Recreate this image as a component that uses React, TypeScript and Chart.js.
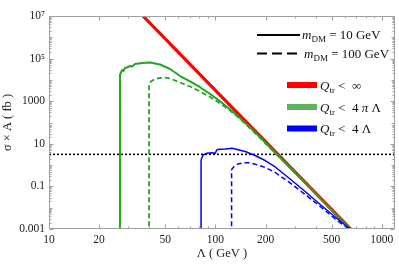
import React, { useEffect, useRef } from 'react';
import { Chart, registerables } from 'chart.js';

Chart.register(...registerables);

// ---- data ----
const xTickValues = [10, 20, 50, 100, 200, 500, 1000];
const xTickLabels = ['10', '20', '50', '100', '200', '500', '1000'];
const yTickValues = [0.001, 0.1, 10, 1000, 1e5, 1e7];
const yTickLabels = ['0.001', '0.1', '10', '1000', '10⁵', '10⁷'];

const redLambda = [33, 36.7, 100, 200, 500, 655];
const redSigma = [2.36e7, 1e7, 3240, 12.5, 0.00805, 0.00093];

const greenSolidLambda = [26.7, 26.7, 27.5, 28.05, 28.6, 29.4, 30.7, 31.6, 32.9, 36.3, 40.5, 46.5, 53.4, 61.3, 70.4, 80.9, 92.9, 106.7, 122.5, 140.8, 161.8, 185.8, 213.3, 281, 427, 525, 655];
const greenSolidSigma = [1e-4, 17000, 29200, 26200, 36200, 38200, 45000, 42600, 55700, 62100, 65600, 52800, 32500, 15200, 8510, 4540, 2180, 1000, 407, 157, 58.2, 20.4, 6.7, 0.78, 0.028, 0.0053, 0.0009];

const greenDashedLambda = [39.9, 39.9, 41.0, 43.4, 46.5, 49.8, 53.4, 61.3, 70.4, 80.9, 92.9, 106.7, 122.5, 140.8, 161.8, 185.8, 213.3, 281, 427, 525, 655];
const greenDashedSigma = [1e-4, 5770, 8410, 11000, 12300, 12700, 11600, 7550, 4900, 2850, 1570, 780, 366, 146, 52.3, 18.7, 6.35, 0.75, 0.027, 0.0051, 0.00088];

const blueSolidLambda = [82.0, 82.0, 84.3, 89.1, 95.5, 99.6, 102.4, 114.4, 126, 131.3, 151, 173.3, 199, 228.6, 281.2, 346, 426.6, 524.8, 586, 650];
const blueSolidSigma = [1e-4, 1.73, 2.98, 3.58, 3.82, 3.58, 5.4, 5.7, 6.15, 5.7, 4.35, 2.82, 1.64, 0.815, 0.222, 0.0577, 0.0141, 0.00366, 0.00181, 0.00095];

const blueDashedLambda = [125.1, 125.1, 129.5, 136.8, 146.8, 159.5, 175.7, 199, 228.6, 281.2, 346, 426.6, 524.8, 586, 650];
const blueDashedSigma = [1e-4, 0.621, 0.859, 1.13, 1.28, 1.28, 1.07, 0.771, 0.45, 0.145, 0.0417, 0.0114, 0.00294, 0.00154, 0.0009];

const limitLambda = [10, 1200];
const limitSigma = [3.2, 3.2];

const massLegend = ['10 GeV', '100 GeV'];
const cutLegend = ['∞', '4 π Λ', '4 Λ'];

const RED = '#ff0000';
const GREEN = '#1fa81f';
const BLUE = '#0000ff';
const SERIF = '"Liberation Serif", "Times New Roman", serif';

const zip = (xs: number[], ys: number[]) => xs.map((x, i) => ({ x, y: ys[i] }));

type Run = { t: string; f: string; dy?: number };
function drawRuns(ctx: CanvasRenderingContext2D, x: number, y: number, runs: Run[]) {
  let cx = x;
  for (const r of runs) {
    ctx.font = r.f;
    ctx.fillText(r.t, cx, y + (r.dy || 0));
    cx += ctx.measureText(r.t).width;
  }
}

const framePlugin = {
  id: 'frameTicks',
  afterDatasetsDraw(chart: any) {
    const { ctx, chartArea } = chart;
    const { left, right, top, bottom } = chartArea;
    const xs = chart.scales.x;
    const ys = chart.scales.y;
    ctx.save();
    ctx.strokeStyle = '#a0a0a0';
    ctx.lineWidth = 1;
    const L = Math.round(left) + 0.5, R = Math.round(right) - 0.5;
    const T = Math.round(top) + 0.5, B = Math.round(bottom) - 0.5;
    ctx.beginPath();
    ctx.rect(L, T, R - L, B - T);
    ctx.stroke();
    ctx.beginPath();
    for (let d = 10; d <= 1000; d *= 10) {
      for (let m = 1; m <= 9; m++) {
        const v = m * d;
        if (v > 1200) break;
        const px = Math.round(xs.getPixelForValue(v)) + 0.5;
        if (px < L || px > R) continue;
        const len = xTickValues.includes(v) ? 4 : 2;
        ctx.moveTo(px, B); ctx.lineTo(px, B - len);
        ctx.moveTo(px, T); ctx.lineTo(px, T + len);
      }
    }
    for (let e = -3; e <= 7; e++) {
      for (let m = 1; m <= 9; m++) {
        const v = m * Math.pow(10, e);
        if (v > 1.0001e7) break;
        const py = Math.round(ys.getPixelForValue(v)) + 0.5;
        const major = m === 1 && (e + 3) % 2 === 0;
        const len = major ? 4 : m === 1 ? 3 : 2;
        ctx.moveTo(L, py); ctx.lineTo(L + len, py);
        ctx.moveTo(R, py); ctx.lineTo(R - len, py);
      }
    }
    ctx.stroke();
    ctx.restore();
  },
  afterDraw(chart: any) {
    const { ctx } = chart;
    ctx.save();
    ctx.fillStyle = '#111';
    ctx.textBaseline = 'alphabetic';
    const big = `13px ${SERIF}`;
    const it = `italic 13px ${SERIF}`;
    const sub = `9px ${SERIF}`;
    // mass legend
    ctx.strokeStyle = '#000';
    ctx.lineWidth = 2;
    ctx.beginPath();
    ctx.moveTo(257, 35); ctx.lineTo(300, 35);
    ctx.stroke();
    ctx.setLineDash([10, 5]);
    ctx.beginPath();
    ctx.moveTo(257, 53.5); ctx.lineTo(297, 53.5);
    ctx.stroke();
    ctx.setLineDash([]);
    const massY = [35, 53.5];
    const massX = [302, 304];
    massLegend.forEach((lab, i) => {
      drawRuns(ctx, massX[i], massY[i] + 4, [
        { t: 'm', f: it },
        { t: 'DM', f: sub, dy: 3 },
        { t: ' = ' + lab, f: big },
      ]);
    });
    // cut legend
    const swCols = [RED, '#5cb35c', BLUE];
    const rowY = [85, 107, 128.5];
    cutLegend.forEach((lab, i) => {
      ctx.fillStyle = swCols[i];
      ctx.fillRect(287, rowY[i] - 3, 30, 6);
      ctx.fillStyle = '#111';
      const runs: Run[] = [
        { t: 'Q', f: it },
        { t: 'tr', f: sub, dy: 3 },
        { t: ' <  ', f: big },
      ];
      if (lab.includes('π')) {
        runs.push({ t: '4 ', f: big }, { t: 'π', f: it }, { t: ' Λ', f: big });
      } else {
        runs.push({ t: lab, f: big });
      }
      drawRuns(ctx, 320, rowY[i] + 4.5, runs);
    });
    ctx.restore();
  },
};

export default function App() {
  const ref = useRef<HTMLCanvasElement>(null);
  useEffect(() => {
    const tickFont = { family: SERIF, size: 11.5 };
    const chart = new Chart(ref.current!, {
      type: 'line',
      data: {
        datasets: [
          { label: 'blue-solid', data: zip(blueSolidLambda, blueSolidSigma), borderColor: BLUE, borderWidth: 1.5, order: 0, clip: 0 },
          { label: 'blue-dashed', data: zip(blueDashedLambda, blueDashedSigma), borderColor: BLUE, borderWidth: 1.5, borderDash: [5, 3], order: 1, clip: 0 },
          { label: 'green-solid', data: zip(greenSolidLambda, greenSolidSigma), borderColor: GREEN, borderWidth: 2, order: 2, clip: 0 },
          { label: 'green-dashed', data: zip(greenDashedLambda, greenDashedSigma), borderColor: GREEN, borderWidth: 1.8, borderDash: [5, 3], order: 3, clip: 0 },
          { label: 'red', data: zip(redLambda, redSigma), borderColor: RED, borderWidth: 3.2, order: 4, clip: 0 },
          { label: 'limit', data: zip(limitLambda, limitSigma), borderColor: '#000', borderWidth: 1.6, borderDash: [2, 2], order: 5, clip: 0 },
        ] as any,
      },
      options: {
        responsive: false,
        animation: false,
        devicePixelRatio: 1,
        layout: { padding: { top: 16, right: 4, left: 0, bottom: 0 } },
        plugins: { legend: { display: false }, tooltip: { enabled: false } },
        elements: { point: { radius: 0 }, line: { tension: 0, borderJoinStyle: 'round' } },
        scales: {
          x: {
            type: 'logarithmic',
            min: 10,
            max: 1200,
            grid: { display: false, drawTicks: false },
            border: { display: false },
            afterBuildTicks: (s: any) => { s.ticks = xTickValues.map((v) => ({ value: v })); },
            afterFit: (s: any) => { s.height = 37; },
            ticks: {
              autoSkip: false,
              maxRotation: 0,
              padding: 4,
              color: '#222',
              font: tickFont,
              callback: (_v: any, i: number) => xTickLabels[i],
            },
            title: { display: true, text: 'Λ ( GeV )', color: '#222', font: { family: SERIF, size: 12.5 }, padding: { top: 0, bottom: 4.5 } },
          },
          y: {
            type: 'logarithmic',
            min: 0.001,
            max: 1e7,
            grid: { display: false, drawTicks: false },
            border: { display: false },
            afterBuildTicks: (s: any) => { s.ticks = yTickValues.map((v) => ({ value: v })); },
            afterFit: (s: any) => { s.width = 49; },
            ticks: {
              autoSkip: false,
              padding: 4,
              color: '#222',
              font: tickFont,
              callback: (_v: any, i: number) => yTickLabels[i],
            },
            title: { display: true, text: 'σ × A ( fb )', color: '#222', font: { family: SERIF, size: 12.5 }, padding: { top: 0, bottom: 0 } },
          },
        },
      } as any,
      plugins: [framePlugin],
    });
    return () => chart.destroy();
  }, []);
  return (
    <div style={{ position: 'fixed', left: 0, top: 0, width: 399, height: 266, background: '#fff' }}>
      <canvas ref={ref} width={399} height={266} style={{ display: 'block' }} />
    </div>
  );
}
